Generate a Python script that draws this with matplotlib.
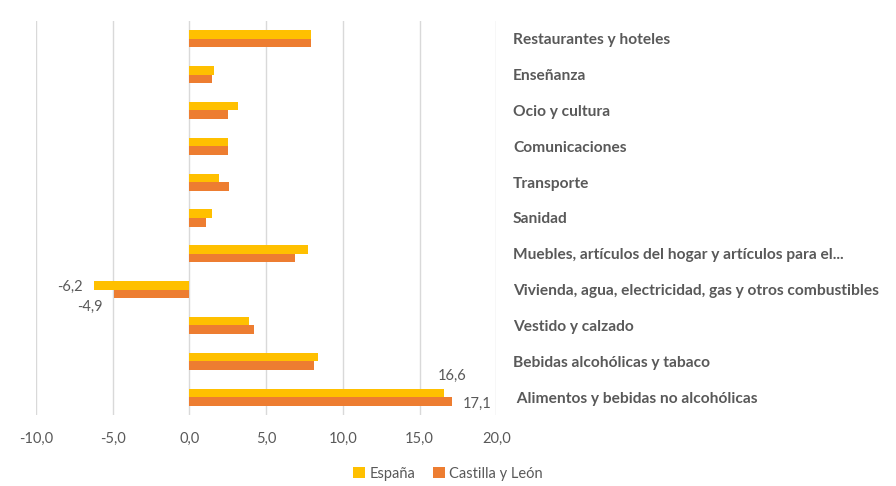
import matplotlib.pyplot as plt
import numpy as np

# categories, top to bottom as in the chart
categorias = ["Restaurantes y hoteles", "Enseñanza", "Ocio y cultura", "Comunicaciones",
              "Transporte", "Sanidad",
              "Muebles, artículos del hogar y artículos para el...",
              "Vivienda, agua, electricidad, gas y otros combustibles",
              "Vestido y calzado", "Bebidas alcohólicas y tabaco",
              " Alimentos y bebidas no alcohólicas"]
espana = [7.9, 1.6, 3.2, 2.5, 1.9, 1.5, 7.7, -6.2, 3.9, 8.4, 16.6]
castilla = [7.9, 1.5, 2.5, 2.5, 2.6, 1.1, 6.9, -4.9, 4.2, 8.1, 17.1]
xticks = [-10, -5, 0, 5, 10, 15, 20]

plt.rcParams['font.family'] = ['Lato', 'DejaVu Sans']
gris = "#595959"

fig = plt.figure(figsize=(8.96, 4.86), dpi=100)
ax = fig.add_axes([0.040, 0.146, 0.514, 0.811])

y = np.arange(len(categorias))
h = 0.24
b1 = ax.barh(y - h / 2, espana, height=h, color="#FFC000", label="España")
b2 = ax.barh(y + h / 2, castilla, height=h, color="#ED7D31", label="Castilla y León")

ax.set_xlim(-10, 20)
ax.set_ylim(len(categorias) - 0.5, -0.5)
ax.set_xticks(xticks)
ax.set_xticklabels([f"{v:.1f}".replace(".", ",") for v in xticks], color=gris, fontsize=10.5)
ax.tick_params(axis="x", length=0, pad=12)

# category names on the right side
ax.yaxis.tick_right()
ax.set_yticks(y)
ax.set_yticklabels(categorias, color=gris, fontsize=11.2, fontweight="bold")
ax.tick_params(axis="y", length=0, pad=12)

ax.grid(axis="x", color="#D9D9D9", linewidth=1)
ax.set_axisbelow(True)
for s in ax.spines.values():
    s.set_visible(False)

# data labels for a few bars
def etiqueta(v, yy, dx, dy, ha):
    ax.annotate(f"{v:.1f}".replace(".", ","), (v, yy), xytext=(dx, dy),
                textcoords="offset points", ha=ha, va="center", color=gris, fontsize=10.5)

etiqueta(espana[7], y[7] - h / 2, -8, -1, "right")
etiqueta(castilla[7], y[7] + h / 2, -8, -9, "right")
etiqueta(espana[10], y[10] - h / 2, 6, 12, "center")
etiqueta(castilla[10], y[10] + h / 2, 8, -2, "left")

fig.legend(handles=[b1, b2], loc="center", bbox_to_anchor=(0.5, 0.025), ncol=2,
           frameon=False, fontsize=10.5, labelcolor=gris, handlelength=0.8,
           handleheight=0.8, handletextpad=0.3, columnspacing=1.2)

plt.savefig("out.png", dpi=100)
